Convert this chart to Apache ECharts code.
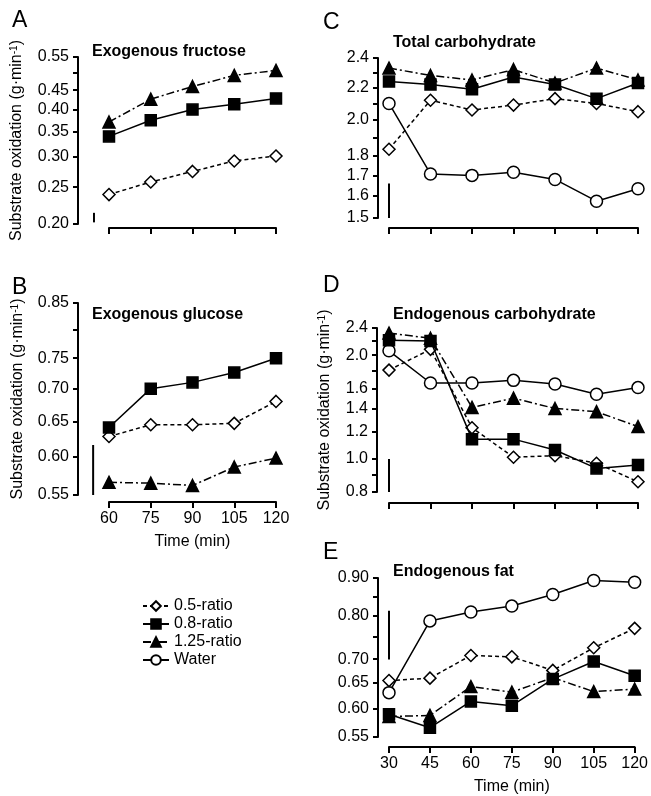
<!DOCTYPE html>
<html>
<head>
<meta charset="utf-8">
<script src="https://cdn.jsdelivr.net/npm/echarts@6/dist/echarts.min.js"></script>
<style>
  html, body { margin: 0; padding: 0; background: #fff; }
  #chart { width: 651px; height: 796px; }
</style>
</head>
<body>
<div id="chart"></div>
<script>
  // time points (min)
  var timesAB = [60, 75, 90, 105, 120]
  var timesCDE = [30, 45, 60, 75, 90, 105, 120]

  // A - exogenous fructose
  var fructose05 = [0.239, 0.258, 0.275, 0.293, 0.302]
  var fructose08 = [0.340, 0.375, 0.400, 0.413, 0.428]
  var fructose125 = [0.371, 0.426, 0.460, 0.492, 0.507]

  // B - exogenous glucose
  var glucose05 = [0.628, 0.645, 0.645, 0.647, 0.680]
  var glucose08 = [0.641, 0.700, 0.710, 0.726, 0.750]
  var glucose125 = [0.566, 0.565, 0.562, 0.586, 0.598]

  // C - total carbohydrate
  var totalCho05 = [1.836, 2.12, 2.06, 2.09, 2.13, 2.10, 2.05]
  var totalCho08 = [2.24, 2.22, 2.19, 2.27, 2.22, 2.13, 2.23]
  var totalCho125 = [2.33, 2.28, 2.25, 2.32, 2.23, 2.33, 2.25]
  var totalChoWater = [2.10, 1.707, 1.70, 1.716, 1.68, 1.576, 1.635]

  // D - endogenous carbohydrate
  var endoCho05 = [1.81, 2.08, 1.23, 1.01, 1.02, 0.97, 0.857]
  var endoCho08 = [2.21, 2.20, 1.14, 1.14, 1.06, 0.937, 0.958]
  var endoCho125 = [2.32, 2.24, 1.41, 1.50, 1.40, 1.37, 1.24]
  var endoChoWater = [2.06, 1.66, 1.66, 1.69, 1.65, 1.54, 1.61]

  // E - endogenous fat
  var fat05 = [0.655, 0.660, 0.708, 0.705, 0.676, 0.725, 0.770]
  var fat08 = [0.590, 0.566, 0.614, 0.606, 0.658, 0.695, 0.665]
  var fat125 = [0.586, 0.588, 0.643, 0.632, 0.661, 0.633, 0.638]
  var fatWater = [0.631, 0.788, 0.810, 0.825, 0.855, 0.893, 0.888]

  // y tick labels / tick marks
  var labelsA = [0.20, 0.25, 0.30, 0.35, 0.40, 0.45, 0.55]
  var ticksA = [0.20, 0.25, 0.30, 0.35, 0.40, 0.45, 0.50, 0.55]
  var labelsB = [0.55, 0.60, 0.65, 0.70, 0.75, 0.85]
  var ticksB = [0.55, 0.60, 0.65, 0.70, 0.75, 0.80, 0.85]
  var labelsC = [1.5, 1.6, 1.7, 1.8, 2.0, 2.2, 2.4]
  var ticksC = [1.5, 1.6, 1.7, 1.8, 1.9, 2.0, 2.1, 2.2, 2.3, 2.4]
  var labelsD = [0.8, 1.0, 1.2, 1.4, 1.6, 2.0, 2.4]
  var ticksD = [0.8, 0.9, 1.0, 1.2, 1.4, 1.6, 1.8, 2.0, 2.2, 2.4]
  var labelsE = [0.55, 0.60, 0.65, 0.70, 0.80, 0.90]
  var ticksE = [0.55, 0.60, 0.65, 0.70, 0.75, 0.80, 0.85, 0.90]

  // variability bars per panel [time, low, high]
  var barA = [54.6, 0.202, 0.214]
  var barB = [54.3, 0.55, 0.616]
  var barC = [30, 1.5, 1.66]
  var barD = [30, 0.8, 0.998]
  var barE = [30, 0.699, 0.813]

  var FONT = '"Liberation Sans", Arial, sans-serif'
  var BLACK = '#000'

  var styles = {
    '0.5-ratio': { symbol: 'diamond', size: 12, fill: '#fff', dash: [4, 3], z: 4 },
    '0.8-ratio': { symbol: 'rect', size: 11, fill: BLACK, dash: 'solid', z: 5 },
    '1.25-ratio': { symbol: 'triangle', size: 12, fill: BLACK, dash: [8, 3, 2, 3], z: 3 },
    'Water': { symbol: 'circle', size: 12, fill: '#fff', dash: 'solid', z: 2 }
  }

  function makeSeries (idx, name, times, values) {
    var st = styles[name]
    return {
      type: 'line',
      name: name,
      xAxisIndex: idx,
      yAxisIndex: idx,
      data: times.map(function (t, i) { return [t, values[i]] }),
      symbol: st.symbol,
      symbolSize: st.size,
      showAllSymbol: true,
      z: st.z,
      lineStyle: { color: BLACK, width: 1.5, type: st.dash },
      itemStyle: { color: st.fill, borderColor: BLACK, borderWidth: 1.5 },
      emphasis: { disabled: true },
      clip: false
    }
  }

  function makeYAxis (idx, labels, ticks, digits, offset, nameGap) {
    return {
      type: 'log',
      logBase: 10,
      gridIndex: idx,
      min: ticks[0],
      max: ticks[ticks.length - 1],
      offset: offset,
      axisLine: { show: true, lineStyle: { color: BLACK, width: 2 } },
      axisTick: { show: true, length: 5, lineStyle: { color: BLACK, width: 2 }, customValues: ticks },
      axisLabel: {
        customValues: labels,
        margin: 9,
        color: BLACK,
        fontSize: 16,
        fontFamily: FONT,
        formatter: function (v) { return (+v).toFixed(digits) }
      },
      minorTick: { show: false },
      splitLine: { show: false },
      name: nameGap ? '{a|Substrate oxidation (g·min}{s|-1}{a|)}' : '',
      nameLocation: 'middle',
      nameGap: nameGap || 0,
      nameRotate: 90,
      nameTextStyle: {
        rich: {
          a: { fontSize: 16, color: BLACK, fontFamily: FONT },
          s: { fontSize: 10, color: BLACK, fontFamily: FONT, verticalAlign: 'top' }
        }
      }
    }
  }

  function makeXAxis (idx, min, offset, labelled) {
    return {
      type: 'value',
      gridIndex: idx,
      min: min,
      max: 120,
      interval: 15,
      offset: offset,
      axisLine: { show: true, onZero: false, lineStyle: { color: BLACK, width: 2 } },
      axisTick: { show: true, length: 6, lineStyle: { color: BLACK, width: 2 } },
      axisLabel: { show: labelled, margin: 9, color: BLACK, fontSize: 16, fontFamily: FONT },
      splitLine: { show: false },
      name: labelled ? 'Time (min)' : '',
      nameLocation: 'middle',
      nameGap: 32,
      nameTextStyle: { fontSize: 16, color: BLACK, fontFamily: FONT }
    }
  }

  function letter (text, left, top) {
    return { text: text, left: left, top: top, padding: 0, textStyle: { fontSize: 23, fontWeight: 'normal', color: BLACK, fontFamily: FONT } }
  }
  function heading (text, left, top) {
    return { text: text, left: left, top: top, padding: 0, textStyle: { fontSize: 16, fontWeight: 'bold', color: BLACK, fontFamily: FONT } }
  }

  var option = {
    animation: false,
    backgroundColor: '#fff',
    title: [
      letter('A', 12, 9), heading('Exogenous fructose', 92, 44),
      letter('B', 12, 276), heading('Exogenous glucose', 92, 307),
      letter('C', 323, 11), heading('Total carbohydrate', 393, 35),
      letter('D', 323, 274), heading('Endogenous carbohydrate', 393, 307),
      letter('E', 323, 541), heading('Endogenous fat', 393, 564)
    ],
    legend: {
      data: ['0.5-ratio', '0.8-ratio', '1.25-ratio', 'Water'],
      orient: 'vertical',
      left: 137,
      top: 593,
      itemWidth: 26,
      itemHeight: 12,
      itemGap: 2,
      selectedMode: false,
      textStyle: { fontSize: 16, color: BLACK, fontFamily: FONT }
    },
    grid: [
      { left: 109, right: 375, top: 57, bottom: 572 },
      { left: 109, right: 375, top: 303, bottom: 301 },
      { left: 389, right: 13, top: 58, bottom: 578 },
      { left: 389, right: 13, top: 328, bottom: 304 },
      { left: 389, right: 13, top: 578, bottom: 53 }
    ],
    xAxis: [
      makeXAxis(0, 60, 4, false),
      makeXAxis(1, 60, 7, true),
      makeXAxis(2, 30, 10, false),
      makeXAxis(3, 30, 11, false),
      makeXAxis(4, 30, 10, true)
    ],
    yAxis: [
      makeYAxis(0, labelsA, ticksA, 2, 31, 53),
      makeYAxis(1, labelsB, ticksB, 2, 31, 52),
      makeYAxis(2, labelsC, ticksC, 1, 11, 0),
      makeYAxis(3, labelsD, ticksD, 1, 12, 44),
      makeYAxis(4, labelsE, ticksE, 2, 11, 0)
    ],
    series: [
      makeSeries(0, '0.5-ratio', timesAB, fructose05),
      makeSeries(0, '0.8-ratio', timesAB, fructose08),
      makeSeries(0, '1.25-ratio', timesAB, fructose125),

      makeSeries(1, '0.5-ratio', timesAB, glucose05),
      makeSeries(1, '0.8-ratio', timesAB, glucose08),
      makeSeries(1, '1.25-ratio', timesAB, glucose125),

      makeSeries(2, 'Water', timesCDE, totalChoWater),
      makeSeries(2, '0.5-ratio', timesCDE, totalCho05),
      makeSeries(2, '0.8-ratio', timesCDE, totalCho08),
      makeSeries(2, '1.25-ratio', timesCDE, totalCho125),

      makeSeries(3, 'Water', timesCDE, endoChoWater),
      makeSeries(3, '0.5-ratio', timesCDE, endoCho05),
      makeSeries(3, '0.8-ratio', timesCDE, endoCho08),
      makeSeries(3, '1.25-ratio', timesCDE, endoCho125),

      makeSeries(4, 'Water', timesCDE, fatWater),
      makeSeries(4, '0.5-ratio', timesCDE, fat05),
      makeSeries(4, '0.8-ratio', timesCDE, fat08),
      makeSeries(4, '1.25-ratio', timesCDE, fat125)
    ]
  }

  var chart = echarts.init(document.getElementById('chart'), null, { renderer: 'canvas' })
  chart.setOption(option)

  // variability bars: positioned through each grid's own axes
  var bars = [barA, barB, barC, barD, barE]
  var barGraphics = bars.map(function (bar, idx) {
    var p1 = chart.convertToPixel({ gridIndex: idx }, [bar[0], bar[1]])
    var p2 = chart.convertToPixel({ gridIndex: idx }, [bar[0], bar[2]])
    return {
      type: 'line',
      silent: true,
      z: 1,
      shape: { x1: p1[0], y1: p1[1], x2: p2[0], y2: p2[1] },
      style: { stroke: BLACK, lineWidth: 2 }
    }
  })
  chart.setOption({ graphic: barGraphics })
</script>
</body>
</html>
